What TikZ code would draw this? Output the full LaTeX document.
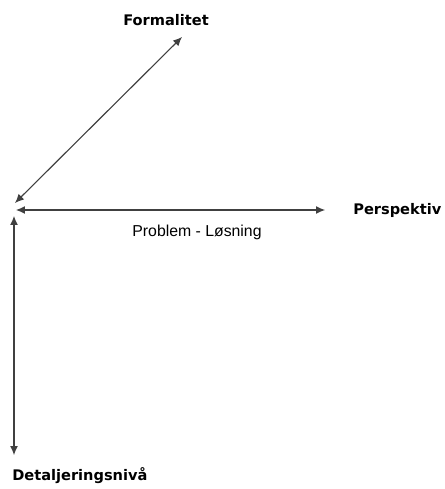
\documentclass[tikz,border=0pt]{standalone}
\usepackage{fontspec}
\setmainfont{Liberation Sans}
\newfontfamily\labelfont{DejaVu Sans}
\usetikzlibrary{arrows.meta, positioning}

\begin{document}
\begin{tikzpicture}[
    x=0.02cm, y=-0.02cm,
    axis/.style={draw=black!75, line width=0.65pt,
                 {Latex[length=1.8mm, width=1.6mm]}-{Latex[length=1.8mm, width=1.6mm]}},
    dimlabel/.style={font=\labelfont\bfseries\fontsize{8.3}{10}\selectfont, inner sep=0pt},
    midlabel/.style={font=\fontsize{9}{11}\selectfont, inner sep=0pt}
]
    \useasboundingbox (0,0) rectangle (444,489);

    % axis ends
    \coordinate (diag0) at (15,203);
    \coordinate (diag1) at (182,37);
    \coordinate (hor0)  at (16,210);
    \coordinate (hor1)  at (325,210);
    \coordinate (ver0)  at (14,216);
    \coordinate (ver1)  at (14,455);

    \draw[axis] (diag0) -- (diag1);
    \draw[axis] (hor0)  -- (hor1);
    \draw[axis] (ver0)  -- (ver1);

    % labels
    \node[dimlabel] (formal)  at (166,20)           {Formalitet};
    \node[dimlabel, anchor=west] (persp) at (353,210) {Perspektiv};
    \node[dimlabel, anchor=west] (detail) at (12,476) {Detaljeringsnivå};
    \node[midlabel] (probsol) at (197,232) {Problem - Løsning};
\end{tikzpicture}
\end{document}
